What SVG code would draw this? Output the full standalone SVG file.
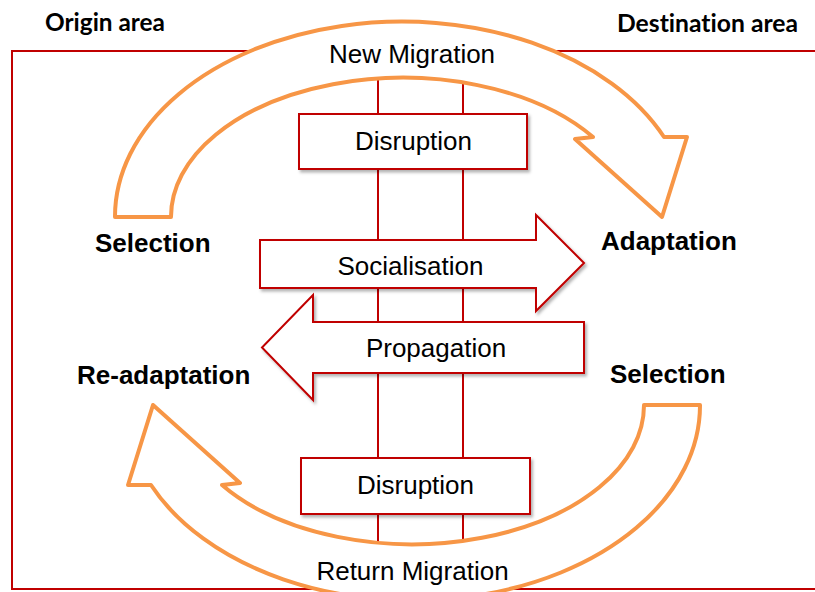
<svg xmlns="http://www.w3.org/2000/svg" width="815" height="592" viewBox="0 0 815 592">
  <defs>
    <filter id="shadow" x="-10%" y="-10%" width="125%" height="130%">
      <feDropShadow dx="2" dy="2.5" stdDeviation="1.5" flood-color="#000" flood-opacity="0.3"/>
    </filter>
    <!-- curved migration arrow, drawn once and reused rotated -->
    <path id="migration-arrow" d="M115,217 A287,195 0 0 1 664,137 L687,137 L662,217 L575,139 L593,137 A232,139 0 0 0 171,217 Z"/>
  </defs>
  <style>
    .frame { fill: none; stroke: #c00000; stroke-width: 2; }
    .axis { stroke: #c00000; stroke-width: 2; fill: none; }
    .orange { fill: #ffffff; stroke: #f79646; stroke-width: 4; stroke-linejoin: round; }
    .block { fill: #ffffff; stroke: #c00000; stroke-width: 2; filter: url(#shadow); }
    .label { font-family: "Liberation Sans", Arial, sans-serif; font-size: 26px; fill: #000; }
    .stage { font-family: "Liberation Sans", Arial, sans-serif; font-size: 26px; font-weight: bold; fill: #000; }
    .area { font-family: Lato, "Open Sans", sans-serif; font-size: 25.5px; font-weight: bold; fill: #000; font-variant-ligatures: none; }
  </style>

  <!-- outer frame and the two boundary lines -->
  <rect class="frame" x="12" y="51" width="812" height="538"/>
  <g id="connectors">
    <line class="axis" x1="378" y1="60" x2="378" y2="560"/>
    <line class="axis" x1="463" y1="60" x2="463" y2="560"/>
  </g>

  <!-- curved arrows -->
  <g id="new-migration">
    <use href="#migration-arrow" class="orange"/>
    <text class="label" x="412" y="63" text-anchor="middle">New Migration</text>
  </g>
  <g id="return-migration">
    <use href="#migration-arrow" class="orange" transform="rotate(180 407.5 311)"/>
    <text class="label" x="412.5" y="580" text-anchor="middle">Return Migration</text>
  </g>

  <!-- disruption boxes -->
  <g id="disruption-top">
    <rect class="block" x="299" y="114" width="228" height="55"/>
    <text class="label" x="413.5" y="150" text-anchor="middle">Disruption</text>
  </g>
  <g id="disruption-bottom">
    <rect class="block" x="301" y="458" width="229" height="56"/>
    <text class="label" x="415.5" y="494" text-anchor="middle">Disruption</text>
  </g>

  <!-- block arrows -->
  <g id="socialisation">
    <polygon class="block" points="260,240 536,240 536,215 584,263 536,311 536,288 260,288"/>
    <text class="label" x="410.5" y="275" text-anchor="middle">Socialisation</text>
  </g>
  <g id="propagation">
    <polygon class="block" points="584,322 313,322 313,295 262,347.5 313,400 313,373 584,373"/>
    <text class="label" x="436" y="357" text-anchor="middle">Propagation</text>
  </g>

  <!-- stage labels -->
  <g id="selection-origin"><text class="stage" x="95" y="252">Selection</text></g>
  <g id="adaptation"><text class="stage" x="601" y="250">Adaptation</text></g>
  <g id="re-adaptation"><text class="stage" x="77" y="384">Re-adaptation</text></g>
  <g id="selection-destination"><text class="stage" x="610" y="383">Selection</text></g>

  <!-- area headings -->
  <g id="origin-area"><text class="area" x="45" y="31" textLength="120" lengthAdjust="spacingAndGlyphs">Origin area</text></g>
  <g id="destination-area"><text class="area" x="617" y="31.5" textLength="181" lengthAdjust="spacingAndGlyphs">Destination area</text></g>
</svg>
